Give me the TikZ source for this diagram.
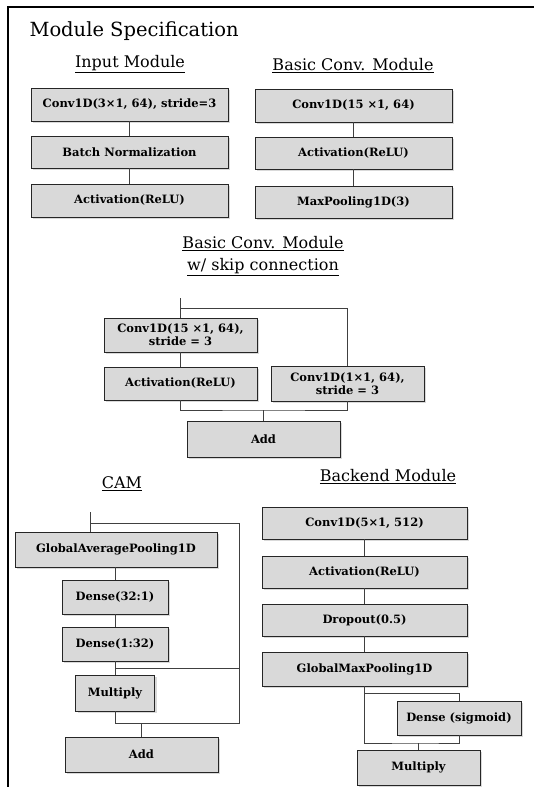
\documentclass[tikz,border=0pt]{standalone}
\usepackage{fontspec}
\setmainfont{DejaVu Serif}
\usetikzlibrary{shadows}
\newcommand\boxfont{\fontsize{11.5}{13}\selectfont\bfseries}
\newcommand\headfont{\fontsize{16}{22}\selectfont}
\tikzset{
  layer/.style={draw=black!85, line width=0.8pt, fill=black!15, align=center, inner sep=1pt,
    font=\boxfont, drop shadow={shadow xshift=2pt, shadow yshift=-2pt, opacity=0.3}},
  link/.style={draw=black!75, line width=0.9pt},
  head/.style={font=\headfont, align=center}
}
\begin{document}
\begin{tikzpicture}[x=1pt, y=-1pt]
		\useasboundingbox (0,0) rectangle (534,787);
		\draw [line width=2.4pt] (8,787) -- (8,7) -- (534,7);
		\node [anchor=west, font=\fontsize{19.5}{23}\selectfont] (spec) at (26,31) {Module Specification};

		% input module
		\node [head] (inhead) at (130,64) {\underline{Input Module}};
		\node [layer, minimum width=197pt, minimum height=33pt] (in1) at (129.5,104.5) {Conv1D(3×1, 64), stride=3};
		\node [layer, minimum width=197pt, minimum height=32pt] (in2) at (129.5,152) {Batch Normalization};
		\node [layer, minimum width=197pt, minimum height=33pt] (in3) at (129.5,200.5) {Activation(ReLU)};
		\draw [link] (in1) -- (in2);
		\draw [link] (in2) -- (in3);

		% basic conv module
		\node [head] (bchead) at (353,66) {\underline{Basic Conv. Module}};
		\node [layer, minimum width=197pt, minimum height=33pt] (bc1) at (353.5,105.5) {Conv1D(15 ×1, 64)};
		\node [layer, minimum width=197pt, minimum height=32pt] (bc2) at (353.5,153) {Activation(ReLU)};
		\node [layer, minimum width=197pt, minimum height=32pt] (bc3) at (353.5,202) {MaxPooling1D(3)};
		\draw [link] (bc1) -- (bc2);
		\draw [link] (bc2) -- (bc3);

		% basic conv module with skip connection
		\node [head] (skhead) at (263,256) {\underline{Basic Conv. Module}\\\underline{w/ skip connection}};
		\coordinate (skin) at (180.5,298);
		\coordinate (skfork) at (347.5,308);
		\coordinate (skjoin) at (263.5,410);
		\node [layer, minimum width=153pt, minimum height=34pt] (sk1) at (180.5,335) {Conv1D(15 ×1, 64),\\stride = 3};
		\node [layer, minimum width=153pt, minimum height=33pt] (sk2) at (180.5,383.5) {Activation(ReLU)};
		\node [layer, minimum width=153pt, minimum height=35pt] (sk3) at (347.5,383.5) {Conv1D(1×1, 64),\\stride = 3};
		\node [layer, minimum width=153pt, minimum height=36pt] (skadd) at (263.5,439) {Add};
		\draw [link] (skin) -- (sk1);
		\draw [link] (skin |- skfork) -- (skfork) -- (sk3);
		\draw [link] (sk1) -- (sk2);
		\draw [link] (sk2) |- (skjoin) -| (sk3);
		\draw [link] (skjoin) -- (skadd);

		% CAM
		\node [head] (camhead) at (122,484) {\underline{CAM}};
		\coordinate (camin) at (90,512);
		\coordinate (camfork) at (239,523);
		\coordinate (cambranch) at (239,668);
		\coordinate (camjoin) at (141.5,723);
		\node [layer, minimum width=202pt, minimum height=35pt] (cam1) at (116,549.5) {GlobalAveragePooling1D};
		\node [layer, minimum width=106pt, minimum height=34pt] (cam2) at (115,597) {Dense(32:1)};
		\node [layer, minimum width=106pt, minimum height=34pt] (cam3) at (115,644) {Dense(1:32)};
		\node [layer, minimum width=79pt, minimum height=36pt] (cam4) at (115,693) {Multiply};
		\node [layer, minimum width=153pt, minimum height=35pt] (cam5) at (141.5,754.5) {Add};
		\draw [link] (camin) -- (camin |- cam1.north);
		\draw [link] (camin |- camfork) -- (camfork) -- (camfork |- camjoin) -- (cam4.south |- camjoin) -- (cam4);
		\draw [link] (cambranch) -- (cam3.south |- cambranch);
		\draw [link] (cam1.south -| cam2) -- (cam2);
		\draw [link] (cam2) -- (cam3);
		\draw [link] (cam3) -- (cam4);
		\draw [link] (camjoin) -- (cam5);

		% backend module
		\node [head] (behead) at (388,477) {\underline{Backend Module}};
		\coordinate (befork) at (459,693);
		\coordinate (bejoin) at (418.5,743);
		\node [layer, minimum width=205pt, minimum height=32pt] (be1) at (364.5,523) {Conv1D(5×1, 512)};
		\node [layer, minimum width=205pt, minimum height=32pt] (be2) at (364.5,572) {Activation(ReLU)};
		\node [layer, minimum width=205pt, minimum height=32pt] (be3) at (364.5,620) {Dropout(0.5)};
		\node [layer, minimum width=205pt, minimum height=34pt] (be4) at (364.5,669) {GlobalMaxPooling1D};
		\node [layer, minimum width=124pt, minimum height=34pt] (be5) at (459,718) {Dense (sigmoid)};
		\node [layer, minimum width=123pt, minimum height=35pt] (be6) at (418.5,767.5) {Multiply};
		\draw [link] (be1) -- (be2);
		\draw [link] (be2) -- (be3);
		\draw [link] (be3) -- (be4);
		\draw [link] (be4) |- (bejoin) -| (be5);
		\draw [link] (be4.south |- befork) -- (befork) -- (be5);
		\draw [link] (bejoin) -- (be6);
\end{tikzpicture}
\end{document}
